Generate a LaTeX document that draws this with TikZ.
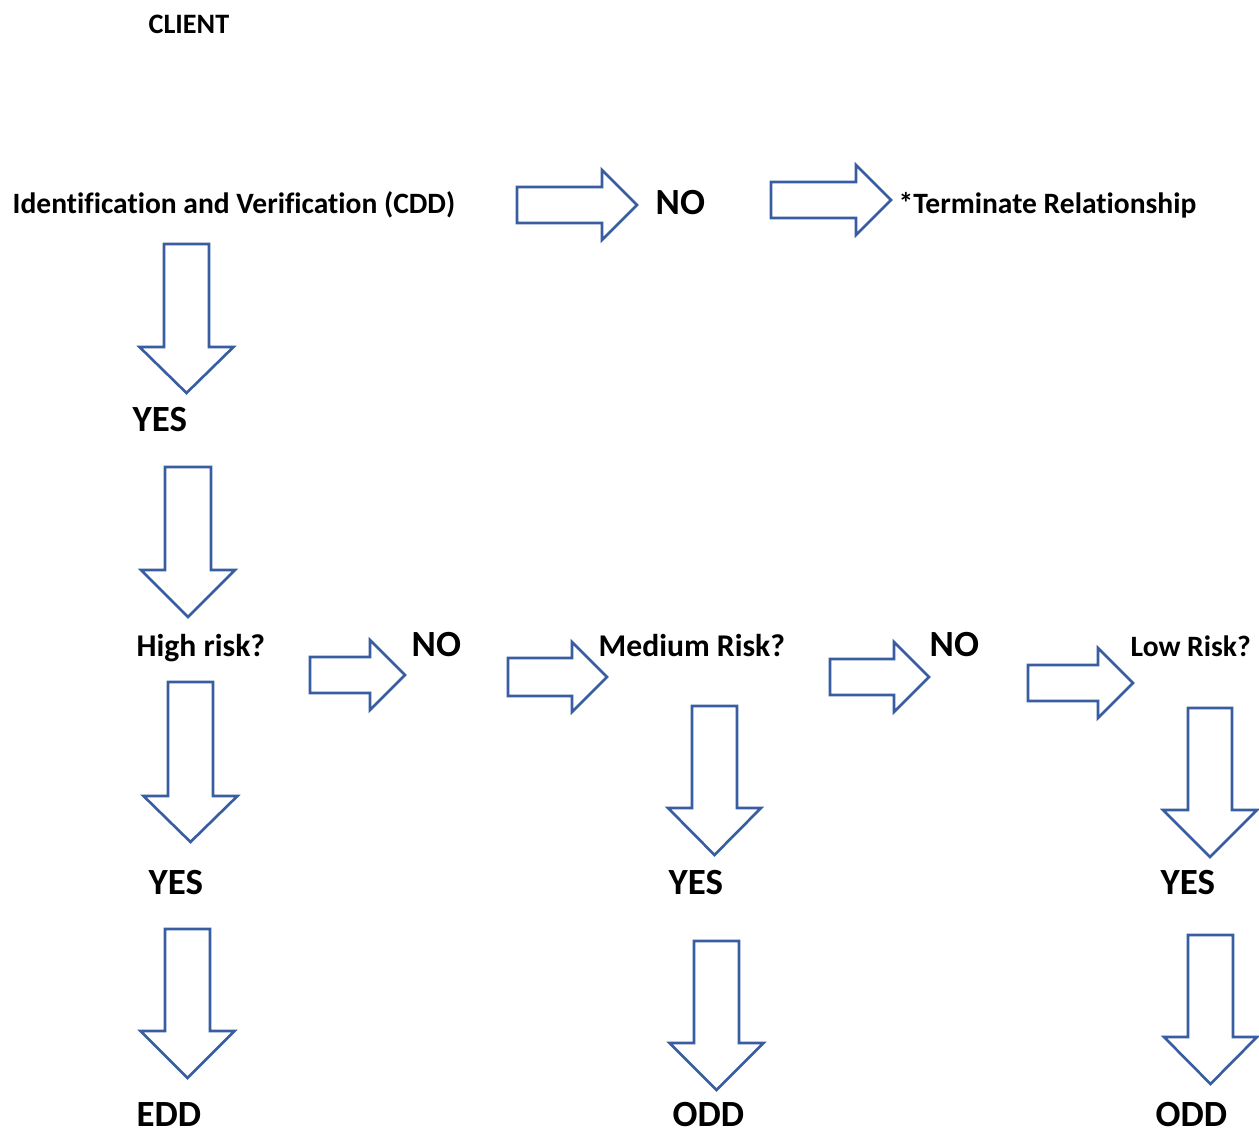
\documentclass[tikz,border=0pt]{standalone}
\usepackage{fontspec}
\setmainfont[Ligatures=NoCommon]{Carlito}
\usepackage{tikz}
\definecolor{arrowblue}{RGB}{56,93,161}
% block arrow pointing right: x0, x1 (tip), x of head, y centre, shaft half width, head half width
\newcommand{\rblock}[6]{%
  \draw[blk] (#1,#4-#5) -- (#3,#4-#5) -- (#3,#4-#6) -- (#2,#4) -- (#3,#4+#6)
    -- (#3,#4+#5) -- (#1,#4+#5) -- cycle;}
% block arrow pointing down: x centre, y0, y1 (tip), y of head, shaft half width, head half width
\newcommand{\dblock}[6]{%
  \draw[blk] (#1-#5,#2) -- (#1+#5,#2) -- (#1+#5,#4) -- (#1+#6,#4) -- (#1,#3)
    -- (#1-#6,#4) -- (#1-#5,#4) -- cycle;}

\begin{document}
\begin{tikzpicture}[x=0.01cm,y=-0.01cm,
  blk/.style={draw=arrowblue,fill=white,line width=0.75pt,line join=miter},
  lbl/.style={anchor=base west,inner sep=0pt,font=\bfseries\fontsize{9}{11}\selectfont},
  sml/.style={anchor=base west,inner sep=0pt,font=\bfseries\fontsize{8.4}{10}\selectfont},
  big/.style={anchor=base west,inner sep=0pt,font=\bfseries\fontsize{10.5}{12}\selectfont}]
  \useasboundingbox (0,0) rectangle (1259,1131);
  % title
  \node[anchor=base west,inner sep=0pt,font=\bfseries\fontsize{8}{10}\selectfont] (client) at (148,34) {CLIENT};
  % first row
  \node[sml] (idv) at (12,214) {Identification and Verification (CDD)};
  \rblock{517}{637}{602}{205}{18}{35}
  \node[big] (no1) at (655,215) {NO};
  \rblock{771}{891}{856}{200}{18}{35}
  \node[sml] (term) at (898,214) {*Terminate Relationship};
  % down to high risk
  \dblock{186.5}{244}{393}{347}{22.5}{47}
  \node[big] (yes1) at (132,432) {YES};
  \dblock{188}{467}{617}{570}{23}{47}
  % risk row
  \node[lbl] (high) at (136,657) {High risk?};
  \rblock{310}{405}{370}{675}{18}{35}
  \node[big] (no2) at (411,657) {NO};
  \rblock{508}{607}{572}{677}{19}{35}
  \node[lbl] (medium) at (598,657) {Medium Risk?};
  \rblock{830}{929}{894}{677}{18}{35}
  \node[big] (no3) at (929,657) {NO};
  \rblock{1028}{1133}{1098}{683}{18}{35}
  \node[sml] (low) at (1130,657) {Low Risk?};
  % yes branches
  \dblock{190.5}{682}{842}{796}{22.5}{47}
  \dblock{714.5}{706}{855}{808}{22.5}{46.5}
  \dblock{1210}{708}{857}{810}{22}{47}
  \node[big] (yes2) at (148,895) {YES};
  \node[big] (yes3) at (668,895) {YES};
  \node[big] (yes4) at (1160,895) {YES};
  % outcomes
  \dblock{187.5}{929}{1078}{1031}{22.5}{47}
  \dblock{716.5}{941}{1090}{1043}{22.5}{47}
  \dblock{1210.5}{935}{1084}{1037}{22.5}{46.5}
  \node[big] (edd) at (136,1127) {EDD};
  \node[big] (odd1) at (672,1127) {ODD};
  \node[big] (odd2) at (1155,1127) {ODD};
\end{tikzpicture}
\end{document}
